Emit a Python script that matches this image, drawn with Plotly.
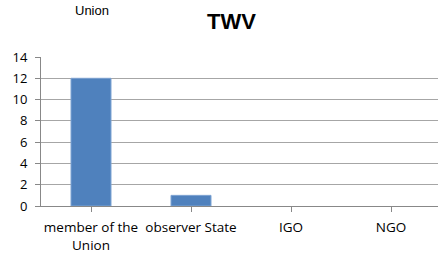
import plotly.graph_objects as go

categories = ["member of the<br>Union", "observer State", "IGO", "NGO"]
values = [12, 1, 0, 0]
y_ticks = [0, 2, 4, 6, 8, 10, 12, 14]
title_text = "TWV"
stray_text = "Union"

font_family = "Open Sans, Liberation Sans, Arial"

fig = go.Figure(go.Bar(
    x=list(range(len(categories))),
    y=values,
    width=0.4,
    marker=dict(color="#4F81BD",
                line=dict(color="#7FA4D3", width=[1 if v > 0 else 0 for v in values])),
))

fig.update_layout(
    width=438, height=254,
    margin=dict(l=41, r=0, t=57, b=48),
    paper_bgcolor="white", plot_bgcolor="white",
    showlegend=False,
    font=dict(family=font_family, size=12, color="black"),
    annotations=[
        dict(text="<b>" + title_text + "</b>", x=(231 - 41) / 397, y=1, xref="paper", yref="paper",
             yshift=36, xanchor="center", yanchor="middle", showarrow=False,
             font=dict(family="Liberation Sans, Arial", size=22, color="black")),
        dict(text=stray_text, x=(91.5 - 41) / 397, y=1, xref="paper", yref="paper",
             yshift=47, xanchor="center", yanchor="middle", showarrow=False,
             font=dict(family="Liberation Sans, Arial", size=13, color="black")),
    ],
)

fig.update_xaxes(
    range=[-0.5, 3.47], automargin=False,
    tickmode="array", tickvals=list(range(len(categories))), ticktext=categories,
    tickson="boundaries", ticks="outside", ticklen=5, tickcolor="#888888",
    ticklabelstandoff=4,
    showgrid=False, showline=True, linecolor="#888888", linewidth=1,
    tickfont=dict(size=13.5), fixedrange=True,
)
fig.update_yaxes(
    range=[0, 14], tickmode="array", tickvals=y_ticks, automargin=False,
    ticks="outside", ticklen=5, tickcolor="#888888",
    ticklabelstandoff=5,
    showgrid=True, gridcolor="#A6A6A6", gridwidth=1,
    showline=True, linecolor="#888888", linewidth=1,
    zeroline=False, tickfont=dict(size=13), fixedrange=True,
)

fig.write_html("out.html", config={"displayModeBar": False},
               post_script="document.body.style.margin='0';")
